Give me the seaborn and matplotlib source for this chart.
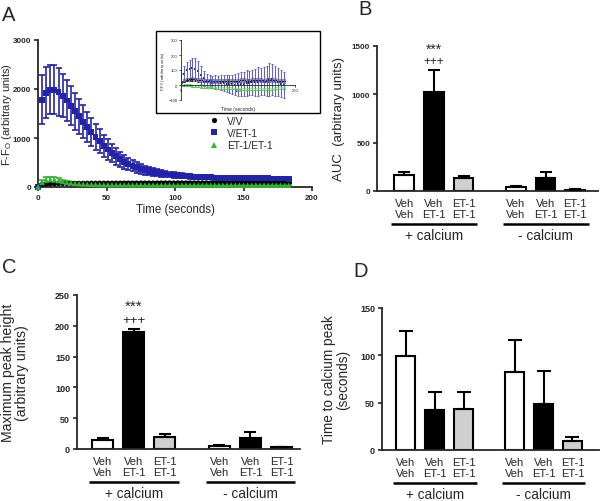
import numpy as np
import pandas as pd
import matplotlib
matplotlib.use("Agg")
import matplotlib.pyplot as plt
from matplotlib.patches import Rectangle
from matplotlib.transforms import offset_copy
import seaborn as sns

# ---- A: calcium traces (mean, SEM), one point every 3 s ----
time_s = [0, 3, 6, 9, 12, 15, 18, 21, 24, 27,
          30, 33, 36, 39, 42, 45, 48, 51, 54, 57,
          60, 63, 66, 69, 72, 75, 78, 81, 84, 87,
          90, 93, 96, 99, 102, 105, 108, 111, 114, 117,
          120, 123, 126, 129, 132, 135, 138, 141, 144, 147,
          150, 153, 156, 159, 162, 165, 168, 171, 174, 177,
          180, 183]
vv_mean = [0, 55, 62, 66, 68, 70, 72, 73, 74, 75,
           75, 76, 76, 77, 77, 78, 78, 78, 79, 79,
           79, 80, 80, 80, 80, 81, 81, 81, 81, 82,
           82, 82, 82, 82, 83, 83, 83, 83, 83, 84,
           84, 84, 84, 84, 85, 85, 85, 85, 85, 85,
           86, 86, 86, 86, 86, 86, 86, 87, 87, 87,
           87, 87]
vv_sem = [0, 15, 15, 14, 14, 14, 13, 13, 13, 13,
          12, 12, 12, 12, 12, 12, 12, 12, 12, 12,
          12, 12, 12, 12, 12, 12, 12, 12, 12, 12,
          12, 12, 12, 12, 12, 12, 12, 12, 12, 12,
          12, 12, 12, 12, 12, 12, 12, 12, 12, 12,
          12, 12, 12, 12, 12, 12, 12, 12, 12, 12,
          12, 12]
vet1_mean = [0, 1780, 1925, 1985, 1985, 1945, 1865, 1765, 1660, 1545,
             1440, 1330, 1225, 1120, 1020, 930, 845, 765, 690, 625,
             565, 510, 470, 435, 400, 370, 345, 325, 307, 292,
             278, 266, 255, 245, 237, 229, 222, 216, 211, 206,
             202, 198, 195, 192, 190, 188, 186, 184, 183, 181,
             180, 179, 178, 177, 176, 175, 175, 174, 174, 173,
             173, 172]
vet1_sem = [0, 500, 520, 505, 500, 490, 445, 410, 400, 380,
            360, 335, 310, 285, 265, 245, 225, 205, 185, 170,
            155, 140, 128, 118, 108, 100, 92, 85, 79, 73,
            68, 64, 60, 56, 53, 50, 48, 46, 44, 42,
            40, 39, 38, 37, 36, 35, 35, 34, 34, 33,
            33, 32, 32, 32, 31, 31, 31, 30, 30, 30,
            30, 30]
ee_mean = [0, 95, 140, 150, 145, 130, 112, 98, 86, 76,
           68, 62, 58, 55, 52, 50, 49, 48, 47, 46,
           46, 45, 45, 44, 44, 44, 43, 43, 43, 42,
           42, 42, 42, 41, 41, 41, 41, 40, 40, 40,
           40, 40, 40, 39, 39, 39, 39, 39, 39, 38,
           38, 38, 38, 38, 38, 38, 37, 37, 37, 37,
           37, 37]
ee_sem = [0, 40, 55, 60, 55, 45, 35, 28, 22, 18,
          16, 15, 14, 13, 12, 12, 11, 11, 11, 10,
          10, 10, 10, 10, 10, 10, 10, 10, 10, 10,
          10, 10, 10, 10, 10, 10, 10, 10, 10, 10,
          10, 10, 10, 10, 10, 10, 10, 10, 10, 10,
          10, 10, 10, 10, 10, 10, 10, 10, 10, 10,
          10, 10]

# ---- A inset: zoomed traces, every 5 s ----
inset_time = [0, 5, 10, 15, 20, 25, 30, 35, 40, 45,
              50, 55, 60, 65, 70, 75, 80, 85, 90, 95,
              100, 105, 110, 115, 120, 125, 130, 135, 140, 145,
              150, 155, 160, 165, 170, 175, 180]
inset_vv_mean = [20, 30, 35, 38, 40, 38, 35, 32, 30, 30,
                 28, 28, 27, 28, 30, 30, 28, 27, 28, 30,
                 30, 32, 33, 30, 30, 32, 35, 35, 33, 30,
                 32, 35, 35, 33, 30, 30, 28]
inset_vv_sem = [8, 10, 10, 12, 12, 12, 12, 12, 12, 12,
                12, 12, 12, 12, 12, 12, 12, 12, 12, 12,
                12, 12, 12, 12, 12, 12, 12, 12, 12, 12,
                12, 12, 12, 12, 12, 12, 12]
inset_vet1_mean = [40, 75, 100, 110, 112, 108, 95, 70, 45, 30,
                   25, 22, 20, 18, 15, 12, 10, 8, 5, 3,
                   5, 8, 10, 12, 15, 18, 20, 22, 25, 28,
                   30, 35, 38, 30, 20, 10, 0]
inset_vet1_sem = [40, 50, 55, 60, 65, 70, 65, 60, 50, 45,
                  40, 40, 45, 45, 50, 55, 55, 60, 65, 70,
                  75, 80, 80, 85, 80, 85, 90, 95, 90, 95,
                  100, 110, 105, 100, 95, 90, 85]
inset_ee_mean = [0, 2, 0, -2, -4, -6, -8, -10, -12, -13,
                 -14, -15, -16, -18, -19, -20, -20, -21, -22, -23,
                 -24, -25, -25, -26, -27, -27, -28, -28, -27, -26,
                 -25, -26, -25, -22, -20, -18, -17]
inset_ee_sem = [6, 6, 6, 6, 6, 6, 6, 6, 6, 6,
                6, 6, 6, 6, 6, 6, 6, 6, 6, 6,
                6, 6, 6, 6, 6, 6, 6, 6, 6, 6,
                6, 6, 6, 6, 6, 6, 6]

# ---- B, C, D: bar charts, order = Veh/Veh, Veh/ET-1, ET-1/ET-1 (+Ca), same (-Ca) ----
calcium_groups = ['+ calcium', '- calcium']
treatments = ['Veh/Veh', 'Veh/ET-1', 'ET-1/ET-1']
tick_labels = ['Veh\nVeh', 'Veh\nET-1', 'ET-1\nET-1']
auc_mean = [170, 1020, 135, 40, 135, 15]
auc_sem = [30, 235, 24, 16, 65, 6]
peak_mean = [15, 190, 19, 4.4, 17.5, 2.7]
peak_sem = [3, 4, 5, 2.5, 9.5, 1.2]
ttp_mean = [99, 42, 43, 82, 49, 10]
ttp_sem = [27, 19, 18, 34, 34, 3.5]

series_colors = {'V/V': 'black', 'V/ET-1': '#2222aa', 'ET-1/ET-1': '#2fb52f'}
bar_colors = {'Veh/Veh': 'white', 'Veh/ET-1': 'black', 'ET-1/ET-1': '#cfcfcf'}

sns.set_style("ticks")
plt.rcParams['font.family'] = ['Liberation Sans', 'DejaVu Sans']
plt.rcParams['mathtext.fontset'] = 'custom'
plt.rcParams['mathtext.rm'] = 'Liberation Sans'
plt.rcParams['axes.linewidth'] = 1.3
plt.rcParams['xtick.major.width'] = 1.2
plt.rcParams['ytick.major.width'] = 1.2
plt.rcParams['xtick.major.size'] = 3
plt.rcParams['ytick.major.size'] = 3

W, H = 600, 502
fig = plt.figure(figsize=(W / 100, H / 100), dpi=100)


def box(l, t, r, b):
    return [l / W, 1 - b / H, (r - l) / W, (b - t) / H]


axA = fig.add_axes(box(38, 41, 312, 188))
axB = fig.add_axes(box(377, 47, 598, 192))
axC = fig.add_axes(box(77, 296, 300, 450))
axD = fig.add_axes(box(382, 309, 599, 451))

# ---------- A ----------
names = ['V/V', 'V/ET-1', 'ET-1/ET-1']
means = [vv_mean, vet1_mean, ee_mean]
sems = [vv_sem, vet1_sem, ee_sem]
dfA = pd.concat([pd.DataFrame({'time': time_s, 'value': m, 'err': s, 'group': n})
                 for n, m, s in zip(names, means, sems)], ignore_index=True)

for n in names:
    d = dfA[dfA['group'] == n]
    axA.errorbar(d['time'], d['value'], yerr=d['err'], fmt='none', ecolor=series_colors[n],
                 elinewidth=1.2, capsize=2.3, capthick=1.2, zorder=2, clip_on=False)
sns.scatterplot(data=dfA, x='time', y='value', hue='group', style='group', size='group',
                palette=series_colors, markers={'V/V': 'o', 'V/ET-1': 's', 'ET-1/ET-1': '^'},
                sizes={'V/V': 14, 'V/ET-1': 18, 'ET-1/ET-1': 16}, linewidth=0,
                ax=axA, zorder=3, clip_on=False)
axA.set_xlim(0, 200)
axA.set_ylim(0, 3000)
axA.set_xticks([0, 50, 100, 150, 200])
axA.set_yticks([0, 1000, 2000, 3000])
axA.tick_params(labelsize=5.8, pad=1.8)
for lab in axA.get_xticklabels() + axA.get_yticklabels():
    lab.set_fontweight('bold')
axA.set_xlabel('Time (seconds)', fontsize=8.3, labelpad=2)
axA.set_ylabel(r'F-F$_\mathrm{O}$ (arbitrary units)', fontsize=8)
axA.yaxis.set_label_coords(-0.086, 0.5)
sns.despine(ax=axA)
sns.move_legend(axA, 'upper left', bbox_to_anchor=(209 / W, 1 - 117 / H),
                bbox_transform=fig.transFigure, frameon=False, title=None,
                fontsize=7.3, handlelength=1.0, handletextpad=0.8,
                labelspacing=0.2, borderpad=0, borderaxespad=0)

# inset
frame = Rectangle((156 / W, 1 - 114 / H), 164 / W, 82 / H, transform=fig.transFigure,
                  fill=False, edgecolor='black', linewidth=1.0)
fig.add_artist(frame)
axI = fig.add_axes(box(181, 41, 295, 101))
axI.patch.set_alpha(0)
ins = [(inset_vv_mean, inset_vv_sem, 'V/V', 'o', '#222222'),
       (inset_vet1_mean, inset_vet1_sem, 'V/ET-1', 's', '#5a5ae6'),
       (inset_ee_mean, inset_ee_sem, 'ET-1/ET-1', '^', '#4cc44c')]
for m, s, n, mk, ec in ins:
    axI.errorbar(inset_time, m, yerr=s, fmt='none', ecolor=ec, elinewidth=0.7,
                 capsize=0.9, capthick=0.7)
    sns.scatterplot(x=inset_time, y=m, color=series_colors[n], marker=mk, s=4,
                    linewidth=0, ax=axI)
axI.set_xlim(0, 200)
axI.set_ylim(-100, 300)
axI.set_xticks([0, 100, 200])
axI.set_yticks([-100, 0, 100, 200, 300])
axI.tick_params(labelsize=3, length=1.5, width=0.6, pad=1)
for sp in ['top', 'right']:
    axI.spines[sp].set_visible(False)
axI.spines['bottom'].set_position(('data', 0))
axI.spines['bottom'].set_linewidth(0.6)
axI.spines['left'].set_linewidth(0.6)
axI.set_ylabel(r'F-F$_\mathrm{O}$ (arbitrary units)', fontsize=3, labelpad=1)
axI.text(0.5, -0.1, 'Time (seconds)', transform=axI.transAxes, ha='center',
         va='top', fontsize=3.5)

# ---------- B, C, D ----------
bar_pos = [g * 3.77 + i for g in range(2) for i in range(3)]


def bar_panel(ax, mean, sem, ylim, yticks, ylabel, label_x, label_size, tick_size, xlim, capsize):
    df = pd.DataFrame({'pos': bar_pos, 'value': mean, 'treatment': treatments * 2})
    sns.barplot(data=df, x='pos', y='value', hue='treatment', palette=bar_colors,
                native_scale=True, dodge=False, width=0.66, edgecolor='black',
                linewidth=1.5, saturation=1, errorbar=None, legend=False, ax=ax)
    ax.errorbar(bar_pos, mean, yerr=[np.zeros(len(mean)), sem], fmt='none',
                ecolor='black', elinewidth=1.5, capsize=capsize, capthick=1.5, zorder=3)
    ax.set_xlim(*xlim)
    ax.set_ylim(*ylim)
    ax.set_yticks(yticks)
    ax.set_xticks(bar_pos, labels=tick_labels * 2)
    ax.tick_params(axis='x', length=0, labelsize=8, pad=5)
    ax.tick_params(axis='y', labelsize=tick_size, pad=2)
    for lab in ax.get_xticklabels():
        lab.set_linespacing(1.08)
    for lab in ax.get_yticklabels():
        lab.set_fontweight('bold')
    ax.set_xlabel('')
    ax.set_ylabel(ylabel, fontsize=label_size, linespacing=1.0)
    ax.yaxis.set_label_coords(label_x, 0.5)
    sns.despine(ax=ax)
    line_tr = offset_copy(ax.get_xaxis_transform(), fig=fig, y=-33, units='dots')
    text_tr = offset_copy(ax.get_xaxis_transform(), fig=fig, y=-44, units='dots')
    for g, name in enumerate(calcium_groups):
        p = bar_pos[g * 3:g * 3 + 3]
        ax.plot([p[0] - 0.45, p[2] + 0.45], [0, 0], color='black', lw=1.8,
                transform=line_tr, clip_on=False, solid_capstyle='butt')
        ax.text(p[1], 0, name, transform=text_tr, ha='center', va='center', fontsize=9.8)


bar_panel(axB, auc_mean, auc_sem, (0, 1500), [0, 500, 1000, 1500],
          'AUC  (arbitrary units)', -0.145, 9.5, 5.8, (-0.92, 6.54), 4)
bar_panel(axC, peak_mean, peak_sem, (0, 250), [0, 50, 100, 150, 200, 250],
          'Maximum peak height\n(arbitrary units)', -0.215, 10.2, 6.5, (-0.83, 6.37), 4)
bar_panel(axD, ttp_mean, ttp_sem, (0, 150), [0, 50, 100, 150],
          'Time to calcium peak\n(seconds)', -0.147, 9.8, 6.5, (-0.83, 6.69), 5)

axB.text(bar_pos[1], 1469, '***', ha='center', va='center', fontsize=10)
axB.text(bar_pos[1], 1342, '+++', ha='center', va='center', fontsize=8.5)
axC.text(bar_pos[1], 232, '***', ha='center', va='center', fontsize=11)
axC.text(bar_pos[1], 210, '+++', ha='center', va='center', fontsize=9.5)

for letter, x, y in [('A', 2, 21), ('B', 358, 15), ('C', 2, 273), ('D', 353, 277)]:
    fig.text(x / W, 1 - y / H, letter, ha='left', va='baseline', fontsize=14.5)

fig.savefig('out.png', dpi=100)
